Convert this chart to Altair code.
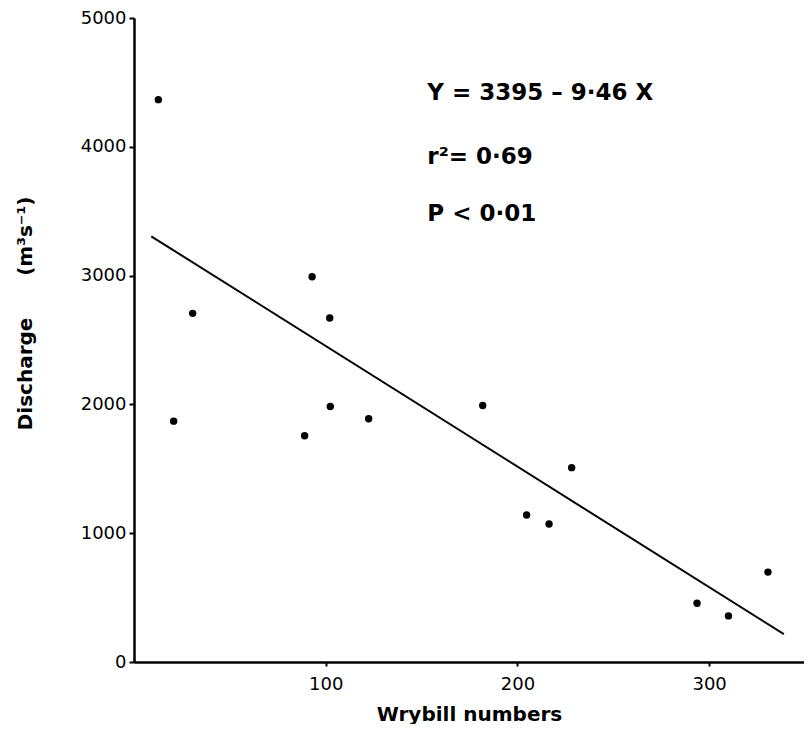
import altair as alt
import pandas as pd

# Scatter data
wrybill = [12.7, 30.6, 92.9, 102.1, 20.7, 89.0, 102.4, 122.4, 181.9, 228.3, 204.8, 216.5, 330.7, 293.7, 310.1]
discharge = [4366, 2707, 2991, 2671, 1870, 1757, 1984, 1888, 1991, 1509, 1141, 1072, 698, 456, 358]

# Regression line endpoints (Y = 3395 - 9.46 X), as drawn
line_x = [9, 339]
line_y = [3305, 216]

# Annotation text
ann_text = ["Y = 3395 \u2013 9\u00b746 X", "r\u00b2= 0\u00b769", "P < 0\u00b701"]
ann_x = [153, 153, 153]
ann_y = [4420, 3918, 3478]

pts = pd.DataFrame({"x": wrybill, "y": discharge})
line = pd.DataFrame({"x": line_x, "y": line_y})
ann = pd.DataFrame({"t": ann_text, "x": ann_x, "y": ann_y})

FONT = "DejaVu Sans"
NB = "\u00a0"

xscale = alt.Scale(domain=[0, 349.5], nice=False, zero=False)
yscale = alt.Scale(domain=[0, 5000], nice=False)

xaxis = alt.Axis(
    title="Wrybill numbers", values=[100, 200, 300], grid=False, format="d",
    domainColor="black", domainWidth=2.5, tickColor="black", tickSize=4, tickWidth=2,
    labelFont=FONT, labelFontSize=18, labelColor="black", labelPadding=9,
    titleFont=FONT, titleFontSize=20, titleFontWeight="bold", titleColor="black",
    titlePadding=11,
)
yaxis = alt.Axis(
    title="Discharge" + NB * 6 + "(m\u00b3s\u207b\u00b9)",
    values=[0, 1000, 2000, 3000, 4000, 5000], grid=False, format="d",
    domainColor="black", domainWidth=2.5, tickColor="black", tickSize=5, tickWidth=2,
    labelFont=FONT, labelFontSize=18, labelColor="black", labelPadding=3,
    titleFont=FONT, titleFontSize=20, titleFontWeight="bold", titleColor="black",
    titlePadding=45, titleY=295,
)

points = alt.Chart(pts).mark_circle(color="black", size=55, opacity=1).encode(
    x=alt.X("x:Q", scale=xscale, axis=xaxis),
    y=alt.Y("y:Q", scale=yscale, axis=yaxis),
)

reg = alt.Chart(line).mark_line(color="black", strokeWidth=2).encode(
    x=alt.X("x:Q", scale=xscale),
    y=alt.Y("y:Q", scale=yscale),
)

text = alt.Chart(ann).mark_text(
    align="left", baseline="middle", font=FONT, fontSize=23, fontWeight="bold", color="black"
).encode(
    x=alt.X("x:Q", scale=xscale),
    y=alt.Y("y:Q", scale=yscale),
    text="t:N",
)

chart = (points + reg + text).properties(
    width=670, height=644,
    autosize=alt.AutoSizeParams(type="none"),
    padding={"left": 126, "top": 10, "right": 0, "bottom": 62},
    background="white",
).configure_view(stroke=None)

chart.save("out.html", embed_options={"renderer": "svg", "actions": False})
